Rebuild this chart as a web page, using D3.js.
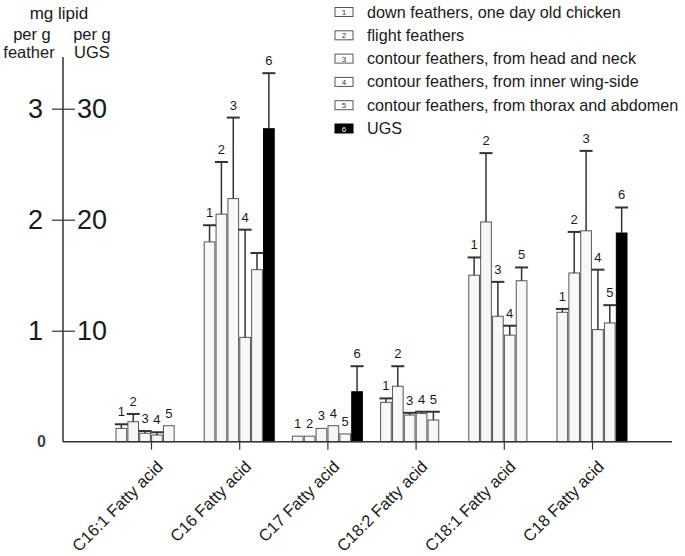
<!DOCTYPE html>
<html><head><meta charset="utf-8">
<script src="https://cdn.jsdelivr.net/npm/d3@7"></script>
<style>
body{margin:0;background:#fff}
svg{display:block}
text{font-family:"Liberation Sans",Arial,sans-serif;fill:#1a1a1a}
</style>
</head><body>
<svg id="c" width="685" height="556"></svg>
<script>
// ---- data ----
const categories = ["C16:1 Fatty acid","C16 Fatty acid","C17 Fatty acid","C18:2 Fatty acid","C18:1 Fatty acid","C18 Fatty acid"];
const seriesIds = ["1","2","3","4","5","6"];
const seriesNames = ["down feathers, one day old chicken","flight feathers","contour feathers, from head and neck","contour feathers, from inner wing-side","contour feathers, from thorax and abdomen","UGS"];
// mg lipid per g feather (series 1-5), upward error
const downFeathers      = [0.12, 1.80, 0.05, 0.355, 1.50, 1.166];
const downFeathersErr   = [0.037, 0.15, 0, 0.035, 0.16, 0.03];
const flightFeathers    = [0.18, 2.05, 0.05, 0.50, 1.98, 1.52];
const flightFeathersErr = [0.07, 0.47, 0, 0.18, 0.62, 0.37];
const headNeck          = [0.076, 2.19, 0.12, 0.24, 1.13, 1.90];
const headNeckErr       = [0.02, 0.73, 0, 0.02, 0.31, 0.72];
const innerWing         = [0.06, 0.94, 0.144, 0.255, 0.96, 1.01];
const innerWingErr      = [0.025, 0.97, 0, 0.015, 0.085, 0.54];
const thoraxAbdomen     = [0.144, 1.55, 0.07, 0.195, 1.45, 1.07];
const thoraxAbdomenErr  = [0, 0.15, 0, 0.075, 0.12, 0.16];
// mg lipid per g UGS (series 6)
const ugs    = [null, 28.2, 4.5, null, null, 18.8];
const ugsErr = [null, 5.0, 2.3, null, null, 2.3];
const featherTicks = [1, 2, 3];
const ugsTicks = [10, 20, 30];
const hiddenLabels = [["C16 Fatty acid", "5"]];

// ---- build ----
const featherValues = [downFeathers, flightFeathers, headNeck, innerWing, thoraxAbdomen];
const featherErrs = [downFeathersErr, flightFeathersErr, headNeckErr, innerWingErr, thoraxAbdomenErr];

const svg = d3.select("#c");
const y0 = 441.7, y3 = 108.7;
const yF = d3.scaleLinear().domain([0, 3]).range([y0, y3]);
const yU = d3.scaleLinear().domain([0, 30]).range([y0, y3]);
const x = d3.scalePoint().domain(categories).range([151, 592]);
const xi = d3.scaleBand().domain(seriesIds).range([-35, 35]).paddingInner(0.1);
const axisX = 63;

const rows = [];
categories.forEach((c, i) => {
  seriesIds.forEach((s, j) => {
    let v, e, sc;
    if (j < 5) { v = featherValues[j][i]; e = featherErrs[j][i]; sc = yF; }
    else { v = ugs[i]; e = ugsErr[i]; sc = yU; }
    if (v == null) return;
    const hidden = hiddenLabels.some(h => h[0] === c && h[1] === s);
    rows.push({c, s, j, v, e, sc, hidden});
  });
});

// bars
const g = svg.append("g");
g.selectAll("rect.bar").data(rows).join("rect")
  .attr("class", "bar")
  .attr("x", d => x(d.c) + xi(d.s))
  .attr("width", xi.bandwidth())
  .attr("y", d => d.sc(d.v))
  .attr("height", d => d.sc(0) - d.sc(d.v))
  .attr("fill", d => d.j === 5 ? "#000" : "#f7f7f7")
  .attr("stroke", d => d.j === 5 ? "#000" : "#555")
  .attr("stroke-width", 1);

// error bars
const eb = rows.filter(d => d.e > 0);
const cx = d => x(d.c) + xi(d.s) + xi.bandwidth() / 2;
g.selectAll("line.err").data(eb).join("line")
  .attr("x1", cx).attr("x2", cx)
  .attr("y1", d => d.sc(d.v)).attr("y2", d => d.sc(d.v + d.e))
  .attr("stroke", "#333").attr("stroke-width", 1.5);
g.selectAll("line.cap").data(eb).join("line")
  .attr("x1", d => cx(d) - 6.5).attr("x2", d => cx(d) + 6.5)
  .attr("y1", d => d.sc(d.v + d.e)).attr("y2", d => d.sc(d.v + d.e))
  .attr("stroke", "#333").attr("stroke-width", 2);

// bar number labels
g.selectAll("text.num").data(rows.filter(d => !d.hidden)).join("text")
  .attr("x", cx)
  .attr("y", d => d.sc(d.v + d.e) - 8)
  .attr("text-anchor", "middle")
  .attr("font-size", 13)
  .text(d => d.s);

// y axis
const axL = svg.append("g").attr("transform", `translate(${axisX},0)`)
  .call(d3.axisLeft(yF).tickValues(featherTicks).tickSize(11).tickPadding(9).tickFormat(d3.format("d")));
const axR = svg.append("g").attr("transform", `translate(${axisX},0)`)
  .call(d3.axisRight(yU).tickValues(ugsTicks).tickSize(12).tickPadding(2).tickFormat(d3.format("d")));
[axL, axR].forEach(a => {
  a.select(".domain").remove();
  a.selectAll(".tick line").attr("stroke", "#333").attr("stroke-width", 1.2);
  a.selectAll(".tick text").attr("font-size", 27).attr("fill", "#1a1a1a")
    .attr("font-family", '"Liberation Sans",Arial,sans-serif');
});
svg.append("line").attr("x1", axisX).attr("x2", axisX).attr("y1", 57).attr("y2", yF(0))
  .attr("stroke", "#333").attr("stroke-width", 1.5);
svg.append("text").attr("x", 46).attr("y", yF(0)).attr("dy", "0.35em")
  .attr("text-anchor", "end").attr("font-size", 16).attr("font-weight", "bold").style("fill", "#444").text("0");

// x axis
svg.append("line").attr("x1", axisX).attr("x2", 672).attr("y1", yF(0)).attr("y2", yF(0))
  .attr("stroke", "#333").attr("stroke-width", 1.5);
const axB = svg.append("g").attr("transform", `translate(0,${yF(0)})`)
  .call(d3.axisBottom(x).tickSize(8).tickFormat(""));
axB.select(".domain").remove();
axB.selectAll(".tick line").attr("stroke", "#333").attr("stroke-width", 1.2);
svg.selectAll("text.cat").data(categories).join("text")
  .attr("class", "cat")
  .attr("text-anchor", "end")
  .attr("font-size", 16.5)
  .attr("transform", d => `translate(${x(d) + 13},${yF(0) + 26}) rotate(-45)`)
  .text(d => d);

// axis titles
const titles = svg.append("g").attr("text-anchor", "middle");
titles.append("text").attr("x", 59).attr("y", 19).attr("font-size", 17).text("mg lipid");
titles.append("text").attr("x", 32).attr("y", 39.5).attr("font-size", 16.5).text("per g");
titles.append("text").attr("x", 29).attr("y", 57.5).attr("font-size", 16.5).text("feather");
titles.append("text").attr("x", 92).attr("y", 39.5).attr("font-size", 16.5).text("per g");
titles.append("text").attr("x", 92).attr("y", 57.5).attr("font-size", 16.5).text("UGS");

// legend
const lg = svg.append("g").attr("transform", "translate(335,12)");
const li = lg.selectAll("g").data(seriesNames).join("g")
  .attr("transform", (d, i) => `translate(0,${i * 23.3})`);
li.append("rect").attr("x", 0).attr("y", -4.5).attr("width", 18).attr("height", 9)
  .attr("fill", (d, i) => i === 5 ? "#000" : "#fff")
  .attr("stroke", (d, i) => i === 5 ? "#000" : "#555").attr("stroke-width", 1);
li.append("text").attr("x", 9).attr("y", 3).attr("text-anchor", "middle").attr("font-size", 8)
  .style("fill", (d, i) => i === 5 ? "#fff" : "#333").text((d, i) => seriesIds[i]);
li.append("text").attr("x", 32).attr("y", 5.5).attr("font-size", 16.2).text(d => d);
</script>
</body></html>
